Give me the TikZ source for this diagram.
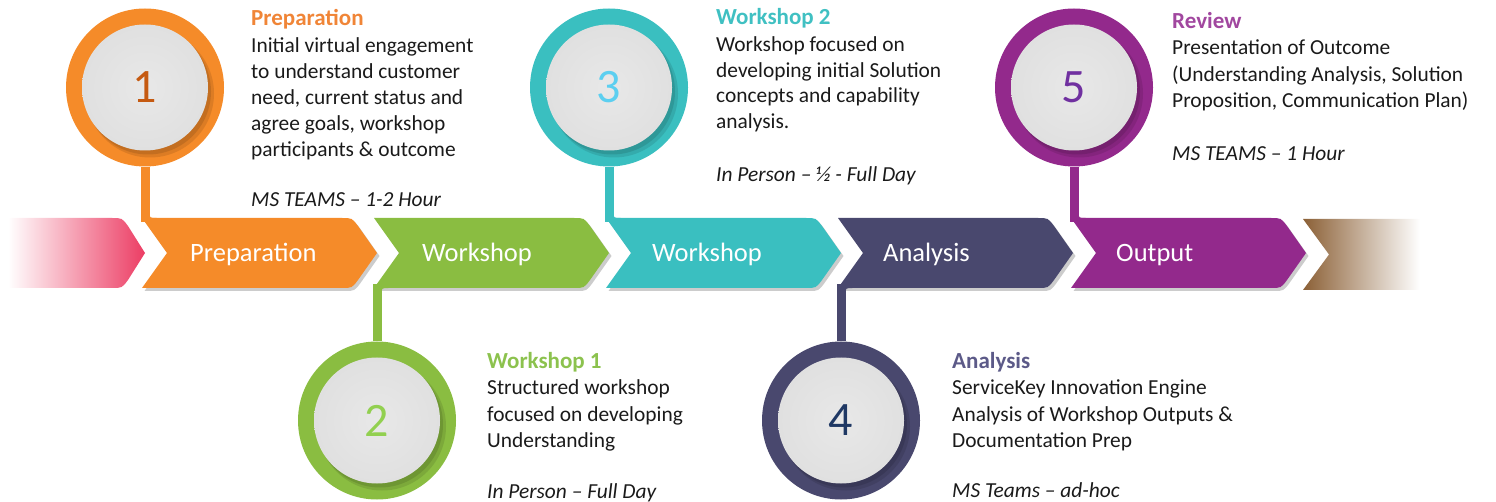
\documentclass[tikz,border=0pt]{standalone}
\usepackage{fontspec}
\setmainfont{Carlito}
\definecolor{cOr}{HTML}{F58B29}
\definecolor{cGr}{HTML}{8ABD41}
\definecolor{cTe}{HTML}{3ABFC0}
\definecolor{cNa}{HTML}{49486E}
\definecolor{cPu}{HTML}{93298C}
\definecolor{cPk}{HTML}{EC3D64}
\definecolor{cBr}{HTML}{8B6036}
\definecolor{tOr}{HTML}{F08537}
\definecolor{tGr}{HTML}{8CC24E}
\definecolor{tTe}{HTML}{40C0C2}
\definecolor{tNa}{HTML}{5C5A88}
\definecolor{tPu}{HTML}{A1479F}
\definecolor{nOr}{HTML}{C55A11}
\definecolor{nGr}{HTML}{92D050}
\definecolor{nTe}{HTML}{5CCFF0}
\definecolor{nNa}{HTML}{1F3864}
\definecolor{nPu}{HTML}{7030A0}
\definecolor{txt}{HTML}{1A1A1A}
\definecolor{discin}{HTML}{E8E8E8}
\definecolor{discout}{HTML}{E0E0E0}
\newcommand\mychevpath[1]{(#1,218) -- ({#1+200},218) .. controls ({#1+210},218) .. ({#1+216},226) -- ({#1+235},253) -- ({#1+216},280) .. controls ({#1+210},288) .. ({#1+200},288) -- (#1,288) -- ({#1+25},253) -- cycle}
\newcommand\mychev[2]{%
  \fill[gray!40, shift={(2.5,3)}] \mychevpath{#1};
  \fill[#2] \mychevpath{#1};}
\tikzset{
  ring/.style={circle, minimum size=158pt, inner sep=0pt},
  disc/.style={circle, minimum size=126pt, inner sep=0pt, inner color=discin, outer color=discout, font=\fontsize{48}{48}\selectfont},
  lab/.style={anchor=base west, text=white, inner sep=0pt, font=\fontsize{26.5}{26}\selectfont},
  ttl/.style={anchor=base west, inner sep=0pt, font=\fontsize{23}{26}\selectfont\bfseries},
  body/.style={anchor=base west, inner sep=0pt, text=txt, font=\fontsize{21.4}{26}\selectfont},
  ital/.style={body, font=\fontsize{21.4}{26}\selectfont\itshape},
  stem/.style={line width=9pt}
}
\begin{document}
\begin{tikzpicture}[x=1pt,y=-1pt]
\useasboundingbox (0,0) rectangle (1496,502);
% faded ends
\shade[left color=white, right color=cPk] (8,218) -- (112,218) .. controls (122,218) .. (128,226) -- (145,253) -- (128,280) .. controls (122,288) .. (112,288) -- (8,288) -- cycle;
\shade[left color=cBr, right color=white] (1303,219) -- (1420,219) -- (1420,290) -- (1303,290) -- (1329,254.5) -- cycle;
% chevrons
\mychev{142}{cOr}
\mychev{374}{cGr}
\mychev{606}{cTe}
\mychev{838}{cNa}
\mychev{1071}{cPu}
\node[lab] (l1) at (190,262) {Preparation};
\node[lab] (l2) at (422,262) {Workshop};
\node[lab] (l3) at (652,262) {Workshop};
\node[lab] (l4) at (883,262) {Analysis};
\node[lab] (l5) at (1116,262) {Output};
% circles
\node[ring, fill=cOr] (r1) at (145,87.5) {};
\node[ring, fill=cGr] (r2) at (377,420.5) {};
\node[ring, fill=cTe] (r3) at (609,87.5) {};
\node[ring, fill=cNa] (r4) at (841,420.5) {};
\node[ring, fill=cPu] (r5) at (1074,87.5) {};
% joints
\coordinate (k1) at (145,222);
\coordinate (k2) at (377,284);
\coordinate (k3) at (609,222);
\coordinate (k4) at (841,284);
\coordinate (k5) at (1074,222);
\draw[stem, cOr] (r1.south) -- (k1);
\draw[stem, cGr] (r2.north) -- (k2);
\draw[stem, cTe] (r3.south) -- (k3);
\draw[stem, cNa] (r4.north) -- (k4);
\draw[stem, cPu] (r5.south) -- (k5);
% fillets
\fill[cOr] (149.5,211) .. controls (149.5,218) .. (156.5,218) -- (149.5,218) -- cycle;
\fill[cTe] (613.5,211) .. controls (613.5,218) .. (620.5,218) -- (613.5,218) -- cycle;
\fill[cPu] (1078.5,211) .. controls (1078.5,218) .. (1085.5,218) -- (1078.5,218) -- cycle;
\fill[cGr] (381.5,295) .. controls (381.5,288) .. (388.5,288) -- (381.5,288) -- cycle;
\fill[cNa] (845.5,295) .. controls (845.5,288) .. (852.5,288) -- (845.5,288) -- cycle;
% inner shadows
\foreach \r/\c in {r1/cOr, r2/cGr, r3/cTe, r4/cNa, r5/cPu} {
  \fill[\c!60!black, opacity=0.25] ([shift={(5,6)}]\r.center) circle[radius=64pt];
  \fill[\c!70!black, opacity=0.5] ([shift={(3,4)}]\r.center) circle[radius=63pt];
}
\node[disc] (d1) at (r1.center) {\textcolor{nOr}{1}};
\node[disc] (d2) at (r2.center) {\textcolor{nGr}{2}};
\node[disc] (d3) at (r3.center) {\textcolor{nTe}{3}};
\node[disc] (d4) at (r4.center) {\textcolor{nNa}{4}};
\node[disc] (d5) at (r5.center) {\textcolor{nPu}{5}};
% text block 1
\node[ttl, text=tOr] (t1) at (251,26) {Preparation};
\foreach \t [count=\i] in {Initial virtual engagement, to understand customer, {need, current status and}, {agree goals, workshop}, participants \& outcome}
  \node[body] (b1-\i) at (251,{53+26*(\i-1)}) {\t};
\node[ital] (m1) at (251,207) {MS TEAMS – 1-2 Hour};
% text block 2
\node[ttl, text=tGr] (t2) at (487,368) {Workshop 1};
\foreach \t [count=\i] in {Structured workshop, focused on developing, Understanding}
  \node[body] (b2-\i) at (487,{395+26*(\i-1)}) {\t};
\node[ital] (m2) at (487,498) {In Person – Full Day};
% text block 3
\node[ttl, text=tTe] (t3) at (716,25) {Workshop 2};
\foreach \t [count=\i] in {Workshop focused on, developing initial Solution, concepts and capability, analysis.}
  \node[body] (b3-\i) at (716,{52+25.5*(\i-1)}) {\t};
\node[ital] (m3) at (716,182) {In Person – ½ - Full Day};
% text block 4
\node[ttl, text=tNa] (t4) at (952,368) {Analysis};
\foreach \t [count=\i] in {ServiceKey Innovation Engine, Analysis of Workshop Outputs \&, Documentation Prep}
  \node[body] (b4-\i) at (952,{395+26*(\i-1)}) {\t};
\node[ital] (m4) at (952,497) {MS Teams – ad-hoc};
% text block 5
\node[ttl, text=tPu] (t5) at (1172,29) {Review};
\foreach \t [count=\i] in {Presentation of Outcome, {(Understanding Analysis, Solution}, {Proposition, Communication Plan)}}
  \node[body] (b5-\i) at (1172,{55+26.5*(\i-1)}) {\t};
\node[ital] (m5) at (1172,161) {MS TEAMS – 1 Hour};
\end{tikzpicture}
\end{document}
